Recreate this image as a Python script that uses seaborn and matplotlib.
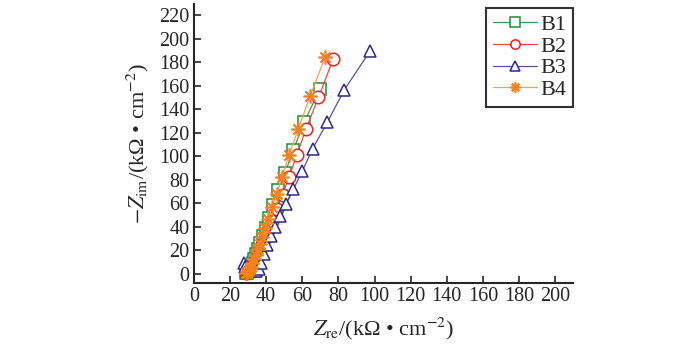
import numpy as np
import pandas as pd
import matplotlib
matplotlib.use('Agg')
import matplotlib.pyplot as plt
import seaborn as sns

# Nyquist data (Z_re, -Z_im), kOhm cm^-2
b1_re = [29.0, 29.6, 30.3, 31.0, 31.8, 32.6, 33.5, 34.5, 35.6, 36.8, 38.2, 39.8, 41.7, 44.0, 46.7, 50.4, 55.0, 61.0, 69.8]
b1_im = [0.3, 0.8, 1.8, 3.5, 6.0, 9.0, 12.5, 16.5, 21.0, 26.0, 32.0, 39.0, 47.5, 58.0, 70.8, 85.5, 105.0, 129.0, 157.0]

b2_re = [29.0, 29.5, 30.1, 30.8, 31.6, 32.4, 33.3, 34.3, 35.4, 36.6, 37.9, 39.4, 41.2, 43.3, 45.8, 49.1, 52.6, 56.9, 62.0, 68.9, 77.2]
b2_im = [0.4, 1.0, 2.0, 3.3, 5.0, 7.0, 9.5, 12.5, 16.0, 20.0, 25.0, 30.5, 37.0, 45.0, 55.0, 67.3, 82.0, 100.6, 123.0, 150.0, 183.0]

b3_re = [27.5, 28.5, 30.0, 31.5, 33.0, 34.5, 36.0, 37.2, 38.9, 40.7, 42.5, 44.9, 47.6, 51.0, 55.0, 60.0, 65.7, 73.9, 83.3, 97.5]
b3_im = [9.0, 6.0, 4.0, 3.0, 2.5, 2.5, 4.0, 9.0, 16.8, 24.5, 32.4, 40.0, 48.6, 59.4, 71.6, 87.2, 106.3, 129.0, 156.6, 189.5]

b4_re = [28.7, 29.3, 30.0, 30.8, 31.6, 32.4, 33.3, 34.3, 35.4, 36.6, 37.9, 39.4, 41.2, 43.3, 46.0, 48.6, 52.6, 57.8, 64.3, 72.6]
b4_im = [0.2, 0.8, 2.0, 3.8, 6.0, 8.8, 12.0, 16.0, 20.5, 25.5, 31.5, 38.5, 46.5, 56.5, 67.8, 82.0, 100.6, 123.3, 151.0, 184.4]

names = ['B1', 'B2', 'B3', 'B4']
colors = ['#1e8c3a', '#e8231c', '#2b2986', '#f5821f']
line_colors = ['#3a9a50', '#ee4a40', '#5552a0', '#f8a050']
markers = ['s', 'o', '^', (8, 2, 0)]

sns.set_style('ticks')
plt.rcParams['font.family'] = ['Liberation Serif', 'DejaVu Serif']
plt.rcParams['mathtext.fontset'] = 'stix'

fig, ax = plt.subplots(figsize=(7, 3.55), dpi=100)
fig.subplots_adjust(left=0.277, right=0.819, bottom=0.203, top=0.99)

series = [(b1_re, b1_im), (b2_re, b2_im), (b3_re, b3_im), (b4_re, b4_im)]
for (xr, yi), name, c, lc, m in zip(series, names, colors, line_colors, markers):
    df = pd.DataFrame({'re': xr, 'im': yi})
    if name == 'B4':
        sns.lineplot(data=df, x='re', y='im', sort=False, ax=ax, color=lc, lw=0.9,
                     marker=m, markersize=10, markeredgecolor=c,
                     markeredgewidth=1.2, label=name)
    else:
        sns.lineplot(data=df, x='re', y='im', sort=False, ax=ax, color=lc, lw=0.9,
                     marker=m, markersize=9, markeredgecolor=c, markerfacecolor='white',
                     markeredgewidth=1.1, label=name)

ax.set_xlim(0, 210)
ax.set_ylim(-8, 230)
ax.set_xticks(np.arange(0, 201, 20))
ax.set_yticks(np.arange(0, 221, 20))
ax.tick_params(direction='in', length=5, width=1.2, labelsize=14.5, pad=3)
for s in ['left', 'bottom']:
    ax.spines[s].set_linewidth(1.5)
sns.despine(ax=ax)

ax.set_xlabel(r'$Z_{\rm re}$/(kΩ • cm$^{-2}$)', fontsize=16, labelpad=7)
ax.set_ylabel(r'$-Z_{\rm im}$/(kΩ • cm$^{-2}$)', fontsize=16, labelpad=6)

leg = ax.legend(loc='upper right', bbox_to_anchor=(1.0, 0.985), fontsize=16,
                frameon=True, fancybox=False, edgecolor='black', handlelength=2.0,
                borderpad=0.3, labelspacing=0.05, handletextpad=0.15,
                borderaxespad=0.0, markerscale=0.75)
leg.get_frame().set_linewidth(1.5)

fig.savefig('out.png', dpi=100)
